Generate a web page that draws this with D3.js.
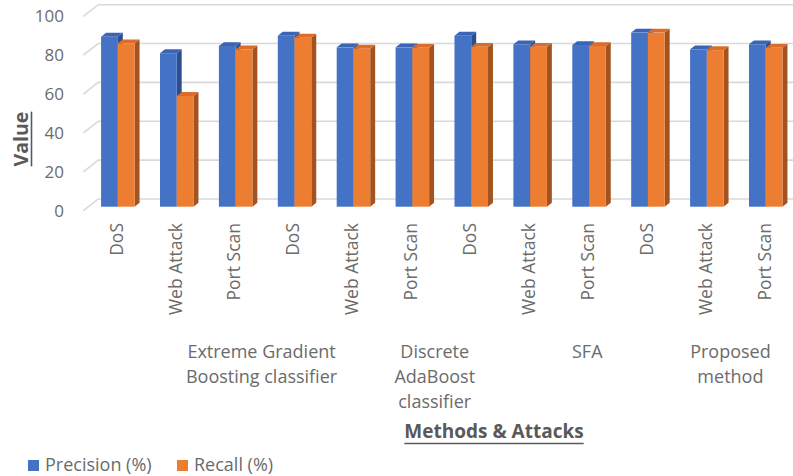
<!DOCTYPE html>
<html>
<head>
<meta charset="utf-8">
<script src="https://cdn.jsdelivr.net/npm/d3@7"></script>
<style>
  html, body { margin: 0; padding: 0; background: #ffffff; }
  svg { display: block; font-family: "Open Sans", "DejaVu Sans", sans-serif; }
</style>
</head>
<body>
<svg id="chart" width="793" height="476"></svg>
<script>
// Attack types, repeated for each method
const categories = ["DoS", "Web Attack", "Port Scan",
                    "DoS", "Web Attack", "Port Scan",
                    "DoS", "Web Attack", "Port Scan",
                    "DoS", "Web Attack", "Port Scan"];
// Method names (line breaks as wrapped on the axis)
const groups = ["Extreme Gradient\nBoosting classifier",
                "Discrete\nAdaBoost\nclassifier",
                "SFA",
                "Proposed\nmethod"];
const seriesNames = ["Precision (%)", "Recall (%)"];
const precision = [87.5, 79, 82.7, 88, 82, 82, 88, 83.6, 83.2, 89.6, 81, 83.6];
const recall    = [84.1, 57, 81, 87, 81.3, 81.8, 82.3, 82.3, 82.7, 89.6, 80.6, 81.8];
const yTicks = [0, 20, 40, 60, 80, 100];

// ---- layout ----
const W = 793;
const colors = ["#4472C4", "#ED7D31"];
const topColors = ["#3a65b4", "#d96d29"];
const sideColors = ["#2b4f8e", "#a3531f"];
const textGray = "#6b6b6b";
const titleGray = "#595959";

// floor depth vector (front edge -> back wall) and bar placement within it
const depth = { x: 15, y: -11.7 };
const barFront = 0.34, barBack = 0.67;
const floorLeft = 83.3;                       // left end of the floor front edge

const y = d3.scaleLinear().domain([0, 100]).range([206.7, 12.4]);   // bar front plane
const yFloor = v => y(v) + barFront * -depth.y;                       // floor front plane
const yWall = v => yFloor(v) + depth.y;                                // back wall

const x0 = floorLeft + barFront * depth.x;
const step = 58.9;
const x = d3.scaleBand().domain(d3.range(categories.length))
  .range([x0, x0 + step * categories.length]).paddingInner(0.431).paddingOuter(0.2155);
const xs = d3.scaleBand().domain([0, 1]).range([0, x.bandwidth()]);

// where each method label sits, in category units along the axis
const groupAt = [2.94, 5.88, 8.47, 10.9];
const xAt = d3.scaleLinear().domain([0, categories.length]).range([x0, x0 + step * categories.length]);

const svg = d3.select("#chart");

// ---- back wall gridlines with side-wall returns ----
const grid = svg.append("g");
yTicks.forEach(v => {
  grid.append("path")
    .attr("d", `M${floorLeft},${yFloor(v)} L${floorLeft + depth.x},${yWall(v)} L${W},${yWall(v)}`)
    .attr("fill", "none").attr("stroke", "#d9d9d9").attr("stroke-width", 1.6);
});

// ---- y axis labels ----
const yAxis = d3.axisLeft(d3.scaleLinear().domain([0, 100]).range([yFloor(0), yFloor(100)]))
  .tickValues(yTicks).tickSize(0).tickPadding(0);
const yg = svg.append("g").attr("transform", "translate(64,0)").call(yAxis);
yg.select(".domain").remove();
yg.selectAll("text").attr("fill", textGray).style("font-size", "17px")
  .style("font-family", "'Open Sans', sans-serif");

// ---- 3D columns ----
const data = categories.map((c, i) => ({ i, vals: [precision[i], recall[i]] }));
const bd = { x: (barBack - barFront) * depth.x, y: (barBack - barFront) * depth.y };
const bars = svg.append("g");
data.forEach(d => {
  d.vals.forEach((v, s) => {
    const left = x(d.i) + xs(s), right = left + xs.bandwidth();
    const top = y(v), bottom = y(0);
    const g = bars.append("g");
    g.append("path")   // side face
      .attr("d", `M${right},${top} L${right + bd.x},${top + bd.y} L${right + bd.x},${bottom + bd.y} L${right},${bottom} Z`)
      .attr("fill", sideColors[s]);
    g.append("path")   // top face
      .attr("d", `M${left},${top} L${left + bd.x},${top + bd.y} L${right + bd.x},${top + bd.y} L${right},${top} Z`)
      .attr("fill", topColors[s]);
    g.append("rect")   // front face
      .attr("x", left).attr("y", top).attr("width", right - left).attr("height", bottom - top)
      .attr("fill", colors[s]);
  });
});

// ---- category labels (rotated) ----
const catG = svg.append("g");
categories.forEach((c, i) => {
  const cx = x(i) + x.bandwidth() / 2 - 1.5;
  catG.append("text")
    .attr("transform", `translate(${cx},223) rotate(-90)`)
    .attr("text-anchor", "end").attr("dy", "0.36em")
    .attr("fill", textGray).style("font-size", "17.5px")
    .text(c);
});

// ---- method labels ----
const grpG = svg.append("g");
groups.forEach((g, k) => {
  const t = grpG.append("text").attr("text-anchor", "middle")
    .attr("fill", textGray).style("font-size", "18px");
  g.split("\n").forEach((line, j) => {
    t.append("tspan").attr("x", xAt(groupAt[k])).attr("y", 358 + j * 25).text(line);
  });
});

// ---- axis titles ----
const vt = svg.append("text")
  .attr("transform", "translate(28,139) rotate(-90)")
  .attr("text-anchor", "middle")
  .attr("fill", titleGray).style("font-size", "19.5px").style("font-weight", "bold")
  .text("Value");
const vLen = vt.node().getComputedTextLength();
svg.append("line").attr("x1", 31.5).attr("x2", 31.5)
  .attr("y1", 139 - vLen / 2).attr("y2", 139 + vLen / 2)
  .attr("stroke", titleGray).attr("stroke-width", 1.6);

const xt = svg.append("text")
  .attr("x", 494).attr("y", 438).attr("text-anchor", "middle")
  .attr("fill", titleGray).style("font-size", "19px").style("font-weight", "bold")
  .text("Methods & Attacks");
const xLen = xt.node().getComputedTextLength();
svg.append("line").attr("x1", 494 - xLen / 2).attr("x2", 494 + xLen / 2)
  .attr("y1", 443.5).attr("y2", 443.5)
  .attr("stroke", titleGray).attr("stroke-width", 1.6);

// ---- legend ----
const legendX = [28, 177];
seriesNames.forEach((n, s) => {
  svg.append("rect").attr("x", legendX[s]).attr("y", 460).attr("width", 11).attr("height", 11)
    .attr("fill", colors[s]);
  svg.append("text").attr("x", legendX[s] + 17).attr("y", 471)
    .attr("fill", textGray).style("font-size", "18px").text(n);
});
</script>
</body>
</html>
